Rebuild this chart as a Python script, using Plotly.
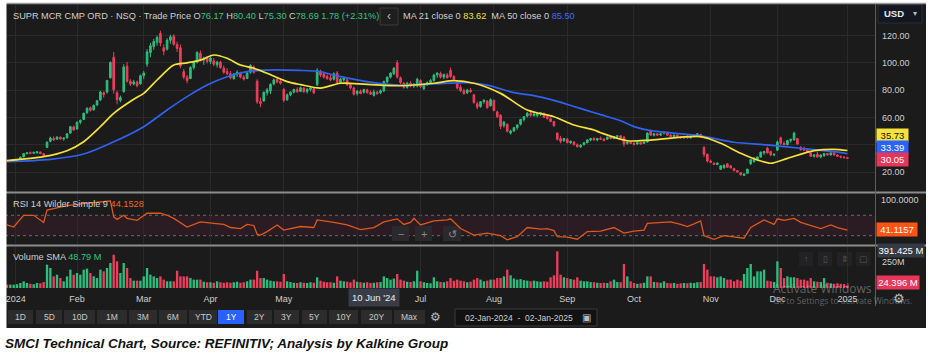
import plotly.graph_objects as go

W, H = 931, 360
def px(x): return x / W
def py(y): return 1 - y / H

# ---------------- data ----------------
month_idx = [2.6, 21, 41, 61, 83, 105, 124, 146, 168, 188, 211, 231, 252]
month_txt = ["2024", "Feb", "Mar", "Apr", "May", "", "Jul", "Aug", "Sep", "Oct", "Nov", "Dec", "2025"]

opens = [
 28.4,28.0,28.3,28.9,29.2,31.0,33.5,34.2,33.8,34.0,34.6,33.4,38.0,42.5,44.5,44.0,45.5,44.2,45.0,48.5,53.0,
 51.5,56.5,58.5,63.5,67.0,65.5,69.0,72.8,78.0,78.5,89.0,104.0,78.0,72.5,79.0,97.5,86.5,84.5,86.0,84.5,
 90.5,99.0,107.5,112.0,115.0,121.5,111.0,110.0,116.5,119.5,113.5,111.0,93.5,89.5,88.5,96.5,100.5,107.0,102.0,103.5,
 101.0,101.5,98.5,100.5,96.0,93.5,92.0,88.5,91.5,92.5,89.5,88.5,93.0,97.0,86.5,71.5,72.0,78.0,79.5,84.5,88.0,86.5,
 80.5,73.0,76.5,78.5,80.5,79.0,81.5,79.0,80.5,81.0,84.0,93.5,92.0,90.0,89.0,88.0,92.5,85.5,87.5,87.5,84.0,81.5,
 77.5,79.0,78.5,80.2,78.2,76.17,78.5,78.0,79.5,86.0,89.5,92.0,100.0,89.0,85.0,82.0,85.0,83.0,83.0,
 87.0,81.0,84.0,85.5,87.0,91.0,92.0,89.5,91.0,94.5,90.0,86.0,82.0,79.5,78.0,80.0,76.5,70.0,68.0,71.5,72.0,68.5,
 72.5,64.0,61.5,54.0,55.0,48.5,50.0,52.5,55.0,58.5,61.0,63.0,61.5,61.5,62.5,63.0,60.5,59.0,57.0,48.5,44.5,43.0,
 44.0,41.5,42.0,40.0,38.5,40.0,41.5,43.5,44.5,43.5,44.5,44.0,44.0,45.5,44.5,46.0,46.5,45.5,41.0,41.8,
 41.0,40.5,41.5,41.0,42.0,50.0,47.0,48.0,47.0,48.5,49.0,47.0,46.0,47.0,46.0,45.0,46.0,45.0,46.0,47.0,47.5,38.0,33.0,
 28.0,26.5,25.5,22.0,23.0,26.0,24.5,22.5,21.0,19.5,17.5,19.0,26.0,27.5,29.0,31.0,34.0,37.5,35.0,32.5,
 36.0,45.0,41.0,40.0,43.0,43.5,44.5,38.0,37.0,36.0,34.0,31.5,33.0,31.0,32.0,33.5,32.5,34.0,32.5,31.5,31.0,30.5,
]
highs = [
 29.0,28.6,29.2,29.6,31.2,33.8,34.6,35.0,34.8,35.2,35.0,33.8,42.5,45.8,46.0,46.2,46.0,45.4,48.5,53.8,54.0,
 57.0,58.5,63.5,67.5,68.0,69.5,72.8,79.5,79.0,87.5,101.0,108.0,79.5,76.0,99.0,100.5,88.0,87.5,87.0,91.5,
 94.0,110.0,114.5,117.5,120.0,123.5,113.5,118.0,120.5,121.0,115.5,113.5,95.5,91.0,97.5,101.5,108.5,109.0,104.5,105.0,
 104.5,103.5,101.5,101.5,98.0,96.0,94.0,92.5,94.5,93.5,91.0,93.5,99.0,98.0,88.0,74.5,79.0,81.5,85.0,88.5,89.5,88.0,
 81.5,77.5,79.0,81.0,82.0,82.5,82.0,81.5,82.5,81.5,96.0,95.0,93.0,91.5,91.0,93.0,94.0,89.0,90.0,88.5,85.0,82.5,
 80.0,80.5,81.0,81.0,79.5,80.40,79.5,80.5,87.0,90.0,93.0,97.0,102.0,90.0,86.0,86.0,86.5,85.0,89.0,
 88.0,85.0,86.5,88.0,92.0,93.0,93.5,92.0,92.5,96.5,91.0,87.0,84.0,81.0,81.0,81.5,77.0,71.5,72.0,73.5,72.5,74.0,
 73.0,65.0,62.5,57.5,55.5,51.0,53.0,55.0,59.0,61.0,64.0,64.0,63.0,63.5,64.0,63.5,61.0,60.0,57.5,49.0,46.5,45.0,
 45.0,43.0,42.5,41.0,40.5,42.0,44.0,45.0,45.5,45.0,46.0,45.0,46.0,46.0,46.5,47.0,47.0,46.5,42.5,42.5,
 42.0,42.0,42.0,42.5,49.0,51.0,48.5,48.5,48.5,50.0,49.5,48.0,47.5,47.5,46.5,46.5,47.0,46.5,47.5,48.5,48.0,39.0,33.5,
 29.0,27.0,27.0,25.0,25.5,26.5,25.0,23.0,21.5,20.0,19.0,22.5,29.5,31.0,31.5,35.0,35.5,38.5,35.5,33.5,
 43.0,46.0,42.5,43.5,44.5,49.5,45.0,39.0,38.5,37.0,34.5,33.0,35.0,33.0,34.0,34.0,34.5,34.5,33.0,32.0,31.5,31.0,
]
lows = [
 27.6,27.3,28.0,28.5,29.0,30.8,32.8,33.2,33.0,33.4,33.0,31.6,37.5,41.8,42.8,43.5,43.6,43.0,44.6,48.0,50.2,
 51.0,55.0,58.0,62.5,64.2,65.0,68.5,72.0,74.5,77.5,88.5,77.5,69.5,71.0,78.0,85.5,83.0,83.5,82.0,84.0,
 88.0,97.0,104.0,109.5,112.5,112.0,105.5,109.0,114.0,112.5,108.0,96.0,88.0,85.0,88.0,95.0,99.5,101.0,98.5,99.5,
 99.0,97.5,96.5,95.5,92.0,91.0,88.0,87.5,89.5,88.5,87.0,88.0,92.0,92.0,70.0,67.5,71.5,76.0,77.0,83.5,85.0,84.0,
 71.0,72.0,75.5,77.5,78.0,78.5,78.0,77.5,79.0,77.0,83.0,89.5,88.5,87.5,86.5,87.0,84.5,84.5,86.0,83.0,80.5,76.0,
 76.0,77.0,77.5,77.5,76.5,75.30,76.5,77.0,78.5,85.0,88.5,91.0,88.5,84.0,81.0,81.0,82.0,81.5,82.0,
 81.5,80.0,83.0,84.0,86.0,89.0,88.5,88.0,88.5,89.0,87.0,80.5,78.5,76.5,77.0,78.0,70.0,66.0,67.0,70.0,66.5,68.0,
 64.5,59.5,51.5,52.5,49.0,47.5,49.5,51.0,54.0,57.0,60.0,60.5,60.5,60.0,61.0,59.5,58.5,56.5,53.0,43.0,41.0,42.0,
 41.0,40.5,39.5,38.0,37.5,39.5,41.0,42.5,43.0,42.5,43.5,42.5,43.5,44.0,44.0,45.0,44.5,38.5,40.0,40.5,
 39.5,40.0,40.0,40.5,41.5,46.5,46.0,46.5,46.5,47.5,46.5,45.5,45.0,45.5,44.5,44.5,44.5,44.5,45.5,46.5,45.0,31.0,27.0,
 26.5,25.0,25.0,21.5,22.5,23.0,22.5,20.5,19.5,17.3,17.0,18.5,25.0,27.0,28.5,30.5,32.5,33.5,31.5,31.5,
 35.5,40.0,39.5,39.5,41.5,43.0,40.0,35.5,35.5,34.0,31.0,30.5,30.5,30.0,31.0,32.0,32.0,32.0,31.0,30.0,29.8,29.6,
]
closes = [
 28.1,28.4,28.9,29.0,30.9,33.5,34.0,33.6,34.4,34.8,33.5,32.0,41.8,44.9,43.5,45.6,44.2,44.8,48.0,53.2,50.8,
 56.5,57.8,63.0,66.6,65.2,68.8,72.2,78.6,76.8,87.0,100.2,80.3,73.0,74.5,97.0,86.5,84.5,86.0,83.2,90.5,
 92.5,108.0,112.5,115.6,118.5,114.5,108.5,116.5,119.0,113.5,110.5,97.5,89.5,87.0,96.5,100.5,107.5,102.0,103.5,101.0,
 103.5,99.0,100.5,96.5,93.0,92.0,89.0,91.8,93.0,89.5,88.0,92.5,98.0,93.0,71.4,70.2,78.4,80.2,84.2,87.5,86.0,85.0,
 72.5,76.5,78.5,80.5,78.8,81.8,78.8,80.6,81.5,78.0,94.5,91.0,89.5,88.5,87.5,92.0,85.5,88.0,89.0,84.0,81.5,77.0,
 79.2,77.5,80.4,78.0,76.91,78.69,77.4,79.6,86.2,89.5,92.5,96.0,89.5,85.5,82.0,85.0,83.0,84.5,88.0,
 82.5,84.0,85.5,87.0,91.0,92.5,89.5,91.5,89.0,90.0,88.0,81.5,79.5,77.5,80.0,78.8,71.0,67.5,71.5,72.5,67.0,73.0,
 65.0,60.5,53.5,56.5,49.8,50.0,52.5,54.5,58.5,60.5,63.0,61.5,62.5,62.8,63.5,60.0,59.0,57.0,54.0,44.0,42.5,44.5,
 41.5,42.5,40.0,38.5,39.5,41.5,43.5,44.5,43.5,44.5,44.0,43.0,45.5,44.5,46.0,46.5,45.0,40.6,41.8,41.0,
 40.2,41.5,40.5,42.0,48.5,47.0,48.0,47.0,48.0,49.0,47.0,46.0,47.0,46.0,45.0,46.0,45.0,46.0,47.0,48.0,45.6,33.0,28.0,
 27.0,25.5,26.5,24.5,25.0,23.5,23.0,21.0,20.0,18.0,18.5,22.0,29.0,30.0,31.0,34.5,35.0,34.0,32.5,33.0,
 42.0,41.0,40.0,43.0,44.0,48.5,40.5,36.5,36.0,35.0,31.5,32.5,31.0,32.5,33.5,32.5,34.0,32.5,31.5,31.0,30.5,30.05,
]
volumes_m = [
 32,32,32,36,48,64,48,40,36,48,45,57,223,191,111,127,95,64,111,175,127,
 143,127,175,185,143,111,95,175,159,191,239,318,255,143,239,191,95,70,70,70,
 111,191,127,111,95,111,80,64,64,64,165,111,111,111,95,80,80,80,60,55,
 55,50,64,55,50,55,50,55,60,50,55,64,80,80,165,95,95,80,70,64,64,60,
 134,64,57,50,48,55,50,48,55,50,102,70,60,55,55,50,111,70,64,60,55,80,
 60,55,50,55,48,50,55,57,111,95,80,90,134,80,70,60,57,64,165,
 64,55,48,45,102,64,57,55,64,95,70,80,70,64,55,60,80,95,80,64,70,80,
 80,95,95,111,175,121,90,80,85,75,70,64,70,64,60,64,60,102,121,350,127,102,
 95,85,80,102,70,64,64,57,55,50,48,50,48,64,80,57,55,229,111,64,
 48,40,45,50,111,111,57,55,50,64,48,45,48,40,45,48,45,50,48,55,57,229,175,
 111,111,102,111,95,80,80,64,80,70,134,191,229,111,159,159,175,70,64,57,
 255,191,95,111,102,102,95,80,80,70,95,64,60,57,95,50,45,40,45,40,38,24.4,
]
ma21_idx = [0,11,18,23,28,32,38,41,45,50,54,58,62,66,70,74,78,84,88,94,100,108,118,128,134,140,148,156,164,170,176,178,186,193,208,214,220,225,229,234,242,248,252]
ma21_val = [28.3,31.2,35.6,42.2,53.2,63.0,73.3,77.6,87.4,98.4,100.0,102.0,105.7,103.3,98.4,96.0,92.3,86.2,84.0,81.5,85.0,84.2,83.2,85.0,86.9,85.0,77.6,65.4,60.5,54.4,50.8,48.8,42.9,43.4,45.9,41.0,33.7,28.8,26.4,30.0,35.6,36.6,35.73]
ma50_idx = [0,13,23,31,41,48,54,60,66,72,78,88,94,98,110,118,128,138,144,152,158,164,170,174,178,184,188,193,208,218,228,238,248,252]
ma50_val = [27.6,29.3,33.2,41.0,53.2,65.4,75.2,83.7,89.8,93.5,94.7,94.4,93.5,91.0,85.5,83.7,84.5,85.4,83.7,78.1,76.0,72.5,68.0,65.0,62.0,57.5,53.2,50.3,46.4,41.8,39.8,37.4,34.9,33.39]
rsi_idx = [0,2,5,8,11,12,18,24,31,32,33,35,36,39,42,46,48,50,54,58,62,65,67,70,72,74,75,76,78,81,83,88,92,93,98,102,106,110,113,117,119,121,122,124,128,132,133,136,140,144,148,150,153,156,160,162,164,165,168,171,174,178,182,185,188,191,192,196,199,202,204,206,208,209,212,215,218,221,223,227,230,231,233,236,238,242,244,247,249,252]
rsi_val = [51,47,70,70,56,80,89,94,98,67,62,70,64,60,74,74,70,64,47,57,54,52,46,44,52,50,33,31,38,51,41,48,46,61,56,51,42,46,57,63,52,56,64,51,59,61,63,44,31,35,30,22,28,46,43,44,40,28,27,23,38,39,46,35,39,41,54,55,57,52,48,53,59,30,23,30,27,25,46,61,52,63,60,64,56,48,44,51,46,41.1]

assert len(opens) == len(highs) == len(lows) == len(closes) == len(volumes_m) == 253
assert len(rsi_idx) == len(rsi_val) and len(ma21_idx) == len(ma21_val) and len(ma50_idx) == len(ma50_val)

idx = list(range(len(closes)))

# ---------------- styles ----------------
FONT = "Liberation Sans, Arial, sans-serif"
BG = "#1b1b1b"
GRID = "#2a2a2a"
GREEN = "#2bbf7e"
RED = "#f03d5c"
YELLOW = "#f6e23a"
BLUE = "#2f62f0"
RSI_C = "#dc5a1c"
TXT = "#cfcfcf"
HG = "#34c484"
FS = 9.2

fig = go.Figure()
fig.add_trace(go.Candlestick(
    x=idx, open=opens, high=highs, low=lows, close=closes,
    increasing=dict(line=dict(color=GREEN, width=1), fillcolor=GREEN),
    decreasing=dict(line=dict(color=RED, width=1), fillcolor=RED),
    whiskerwidth=0, xaxis="x", yaxis="y", showlegend=False, hoverinfo="skip"))
fig.add_trace(go.Scatter(x=ma50_idx, y=ma50_val, mode="lines",
    line=dict(color=BLUE, width=1.7, shape="spline", smoothing=0.8),
    xaxis="x", yaxis="y", showlegend=False, hoverinfo="skip"))
fig.add_trace(go.Scatter(x=ma21_idx, y=ma21_val, mode="lines",
    line=dict(color=YELLOW, width=1.7, shape="spline", smoothing=0.8),
    xaxis="x", yaxis="y", showlegend=False, hoverinfo="skip"))
fig.add_trace(go.Scatter(x=rsi_idx, y=rsi_val, mode="lines",
    line=dict(color=RSI_C, width=1.3),
    xaxis="x2", yaxis="y2", showlegend=False, hoverinfo="skip"))
vol_colors = [GREEN if c >= o else RED for o, c in zip(opens, closes)]
fig.add_trace(go.Bar(x=idx, y=volumes_m, marker=dict(color=vol_colors, line=dict(width=0)),
    width=0.7, xaxis="x3", yaxis="y3", showlegend=False, hoverinfo="skip"))

xcommon = dict(domain=[px(5), px(875)], range=[-0.6, 260.27], tickvals=month_idx,
               showgrid=True, gridcolor=GRID, gridwidth=1, zeroline=False, showline=False,
               ticks="", fixedrange=True)
ytick = dict(size=9, color=TXT, family=FONT)

shapes = []
def rect(x0, y0, x1, y1, fill, line=None, layer="below", lw=1):
    shapes.append(dict(type="rect", xref="paper", yref="paper", x0=px(x0), x1=px(x1), y0=py(y0), y1=py(y1),
                       fillcolor=fill, line=dict(color=line or fill, width=lw if line else 0), layer=layer))
def hline(x0, x1, y, color, width=1, layer="above", dash=None):
    shapes.append(dict(type="line", xref="paper", yref="paper", x0=px(x0), x1=px(x1), y0=py(y), y1=py(y),
                       line=dict(color=color, width=width, dash=dash), layer=layer))

rect(5, 4, 926, 328, BG)
# RSI band and levels
shapes.append(dict(type="rect", xref="paper", yref="y2", x0=px(5), x1=px(875), y0=30, y1=70,
                   fillcolor="#2b1b23", line=dict(width=0), layer="below"))
for lv in (30, 70):
    shapes.append(dict(type="line", xref="paper", yref="y2", x0=px(5), x1=px(875), y0=lv, y1=lv,
                       line=dict(color="#6a6a6a", width=1, dash="dot"), layer="below"))
hline(5, 926, 3.5, "#9a9a9a", 1.5)
hline(5, 926, 192.5, "#8c8c8c", 2)
hline(5, 926, 245.5, "#8c8c8c", 2)
shapes.append(dict(type="line", xref="paper", yref="paper", x0=px(875.5), x1=px(875.5), y0=py(4), y1=py(306),
                   line=dict(color="#5e5e5e", width=1), layer="above"))
# white strip on the left edge
rect(0, 0, 6.5, 330, "white", layer="above")

# USD box
rect(878, 5, 922, 23, "#131722", "#2a2e39")
# "<" button
rect(380, 8, 398, 25, "#1e1e1e", "#3a3a3a")
# RSI zoom controls
for x0, x1 in ((392, 409), (415, 432), (443, 461)):
    rect(x0, 226, x1, 241, "#2a2a2e")
# volume pane icons
for x0, x1 in ((799, 813), (818, 832), (837, 852), (856, 871)):
    rect(x0, 252, x1, 266, "#222225")

# toolbar buttons
buttons = [("1D", 8, 33), ("5D", 36, 62), ("10D", 64, 95), ("1M", 97, 127), ("3M", 129, 157),
           ("6M", 159, 187), ("YTD", 189, 217), ("1Y", 218, 244), ("2Y", 247, 272), ("3Y", 274, 299),
           ("5Y", 302, 327), ("10Y", 329, 358), ("20Y", 361, 392), ("Max", 394, 425)]
for t, x0, x1 in buttons:
    rect(x0, 310, x1, 324, "#2962ff" if t == "1Y" else "#2c2c2c")
rect(455, 309, 597, 326, "#121212", "#3a3a3a")

ann = []
def label(x, y, text, size=FS, color=TXT, xanchor="left", bg=None, width=None, family=FONT, pad=1):
    d = dict(x=px(x), y=py(y), xref="paper", yref="paper", text=text, showarrow=False,
             xanchor=xanchor, yanchor="middle", font=dict(size=size, color=color, family=family))
    if bg:
        d.update(bgcolor=bg, borderpad=pad)
    if width:
        d.update(width=width, align="center")
    return d

def g(v): return f"<span style='color:{HG}'>{v}</span>"
header = ("SUPR MCR CMP ORD · NSQ · Trade Price " + "O" + g("76.17") + " H" + g("80.40")
          + " L" + g("75.30") + " C" + g("78.69") + " " + g("1.78 (+2.31%)"))
ann.append(label(11, 16.5, header))
ann.append(label(389, 16.5, "‹", size=12, color="#bbbbbb", xanchor="center"))
ann.append(label(401, 16.5, "MA 21 close 0 " + f"<span style='color:{YELLOW}'>83.62</span>" + "\u00a0\u00a0"
                 + "MA 50 close 0 " + f"<span style='color:#3d6bff'>85.50</span>"))
ann.append(label(882, 14, "<b>USD</b>", size=9.5, color="#e8e8e8"))
ann.append(label(915, 14, "▾", size=8, color="#bbbbbb", xanchor="center"))

# price badges
ann.append(label(875.5, 135.5, "35.73", size=9.5, color="#111111", bg=YELLOW, width=29))
ann.append(label(875.5, 147.5, "33.39", size=9.5, color="white", bg="#2962ff", width=29))
ann.append(label(875.5, 159.2, "30.05", size=9.5, color="white", bg="#e8365a", width=29))

# RSI
ann.append(label(11, 204, "RSI 14 Wilder Simple 9 " + "<span style='color:#f26522'>44.1528</span>"))
ann.append(label(875.5, 229, "41.1157", size=9.5, color="white", bg="#ff5414", width=38))
for cx, t in ((400.5, "−"), (423.5, "+"), (452, "↺")):
    ann.append(label(cx, 233.5, t, size=11, color="#8a8a8a", xanchor="center"))

# Volume
ann.append(label(11, 257, "Volume SMA " + g("48.79 M")))
ann.append(label(876.5, 250.5, "391.425 M", size=9.5, color="white", bg="#363a45", width=44))
ann.append(label(875.5, 282, "24.396 M", size=9.5, color="white", bg="#e8365a", width=40))
for cx, t in ((806, "↑"), (825, "▯"), (844.5, "⇕"), (863.5, "▢")):
    ann.append(label(cx, 259, t, size=9, color="#555555", xanchor="center"))

# crosshair date label
ann.append(dict(x=110, xref="x3", y=py(297.5), yref="paper", text="10 Jun '24", showarrow=False,
                xanchor="center", yanchor="middle", bgcolor="#383c46", borderpad=3,
                font=dict(size=9.5, color="#eeeeee", family=FONT)))

# Windows watermark
ann.append(label(771, 288.5, "Activate Windows", size=12, color="rgba(190,190,190,0.45)", family="Open Sans, sans-serif"))
ann.append(label(771, 300, "Go to Settings to activate Windows.", size=8.5, color="rgba(190,190,190,0.45)", family="Open Sans, sans-serif"))
ann.append(label(899, 298, "⚙", size=13, color="#bbbbbb", xanchor="center"))

# toolbar texts
for t, x0, x1 in buttons:
    ann.append(label((x0 + x1) / 2, 317, t, size=8.5, color="white" if t == "1Y" else "#c8c8c8", xanchor="center"))
ann.append(label(435, 317, "⚙", size=12, color="#bbbbbb", xanchor="center"))
ann.append(label(463, 317.5, "02-Jan-2024\u00a0\u00a0-\u00a0\u00a002-Jan-2025", size=8.5, color="#d0d0d0"))
ann.append(label(586, 317.5, "▣", size=10, color="#bbbbbb", xanchor="center"))

# caption
ann.append(label(3, 343, "<b><i>SMCI Technical Chart, Source: REFINITIV; Analysis by Kalkine Group</i></b>",
                 size=13.5, color="#111111", family="Liberation Sans, Arial, sans-serif"))

fig.update_layout(
    width=W, height=H, margin=dict(l=0, r=0, t=0, b=0), autosize=False,
    paper_bgcolor="white", plot_bgcolor=BG, showlegend=False, bargap=0.3,
    xaxis=dict(**xcommon, showticklabels=False, anchor="y", rangeslider=dict(visible=False)),
    xaxis2=dict(**xcommon, showticklabels=False, anchor="y2"),
    xaxis3=dict(**xcommon, ticktext=month_txt, showticklabels=True, anchor="y3",
                tickfont=dict(size=9, color=TXT, family=FONT), ticklabelstandoff=2),
    yaxis=dict(domain=[py(191), py(5)], range=[6.08, 142.34], side="right", anchor="x",
               tickvals=[20, 40, 60, 80, 100, 120], tickformat=".2f", showgrid=True, gridcolor=GRID,
               zeroline=False, ticks="", tickfont=ytick, ticklabelstandoff=6, fixedrange=True),
    yaxis2=dict(domain=[py(244), py(194)], range=[13.7, 111.7], side="right", anchor="x2",
                tickvals=[50, 100], ticktext=["50.0000", "100.0000"], showgrid=False, zeroline=False,
                ticks="", tickfont=ytick, ticklabelstandoff=5, fixedrange=True),
    yaxis3=dict(domain=[py(290), py(247)], range=[-19.1, 391.5], side="right", anchor="x3",
                tickvals=[250], ticktext=["250M"], showgrid=False, zeroline=False,
                ticks="", tickfont=ytick, ticklabelstandoff=6, fixedrange=True),
    shapes=shapes, annotations=ann,
)

fig.write_html("out.html", config={"displayModeBar": False, "displaylogo": False},
               post_script="document.body.style.margin='0';document.body.style.overflow='hidden';")
